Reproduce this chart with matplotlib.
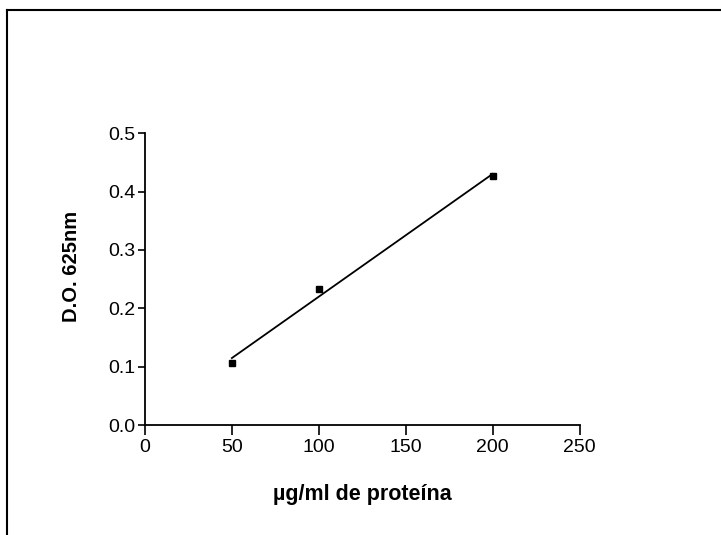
import numpy as np
import matplotlib
matplotlib.use("Agg")
import matplotlib.pyplot as plt
from matplotlib.lines import Line2D

conc = [50, 100, 200]
od = [0.106, 0.233, 0.426]
xticks = [0, 50, 100, 150, 200, 250]
yticks = [0.0, 0.1, 0.2, 0.3, 0.4, 0.5]

plt.rcParams['font.family'] = ['Liberation Sans', 'DejaVu Sans']

fig = plt.figure(figsize=(7.21, 5.35), dpi=100)
ax = fig.add_axes([0.201, 0.2056, 0.603, 0.5454])

slope, intercept = np.polyfit(conc, od, 1)
xf = np.array([min(conc), max(conc)])
ax.plot(xf, slope * xf + intercept, color='black', lw=1.3)
ax.plot(conc, od, 's', color='black', markersize=4)

ax.set_xlim(0, 250)
ax.set_ylim(0, 0.5)
ax.set_xticks(xticks)
ax.set_yticks(yticks)
ax.set_yticklabels([f"{v:.1f}" for v in yticks])
ax.spines['top'].set_visible(False)
ax.spines['right'].set_visible(False)
for s in ['left', 'bottom']:
    ax.spines[s].set_linewidth(1.3)
ax.tick_params(axis='x', length=7, width=1.2, labelsize=14, pad=3)
ax.tick_params(axis='y', length=5, width=1.2, labelsize=14, pad=2)
ax.set_xlabel("µg/ml de proteína", fontsize=15.5, fontweight='bold', labelpad=20)
ax.set_ylabel("D.O. 625nm", fontsize=14.5, fontweight='bold')
ax.yaxis.set_label_coords(-0.148, 0.545)

fig.add_artist(Line2D([0.0097, 0.0097], [0.0, 0.981], transform=fig.transFigure, color='black', lw=1.5))
fig.add_artist(Line2D([0.0097, 1.0], [0.981, 0.981], transform=fig.transFigure, color='black', lw=1.5))

fig.savefig("out.png", dpi=100)
